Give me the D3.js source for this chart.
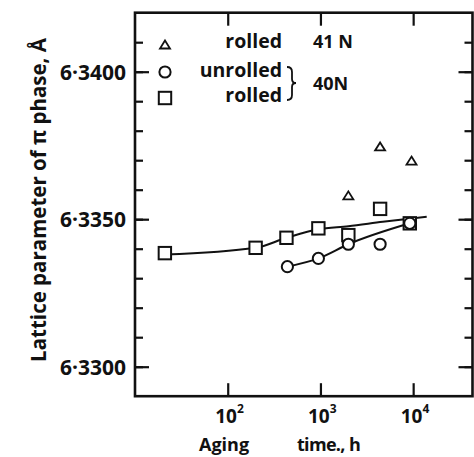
<!DOCTYPE html>
<html>
<head>
<meta charset="utf-8">
<script src="https://cdn.jsdelivr.net/npm/d3@7"></script>
<style>
  html, body { margin: 0; padding: 0; background: #fff; }
  svg { display: block; }
  text { font-family: "Open Sans", "DejaVu Sans", sans-serif; font-weight: 700; fill: #111; }
</style>
</head>
<body>
<svg id="chart" width="474" height="457"></svg>
<script>
// Aging time (h) and lattice parameter (Å) of the π phase
const rolled41Time  = [2000, 4400, 9600];
const rolled41Value = [6.33579, 6.33745, 6.33697];

const unrolled40Time  = [440, 950, 2000, 4400, 9200];
const unrolled40Value = [6.33339, 6.33367, 6.33415, 6.33415, 6.33486];

const rolled40Time  = [21, 200, 430, 950, 2000, 4400, 9200];
const rolled40Value = [6.33385, 6.33403, 6.33437, 6.33469, 6.33446, 6.33535, 6.33486];

// hand-drawn trend curves
const rolled40CurveTime  = [21, 200, 430, 950, 2000, 4700, 14000];
const rolled40CurveValue = [6.33380, 6.33403, 6.33437, 6.33466, 6.33476, 6.33491, 6.33508];
const unrolled40CurveTime  = [440, 950, 2000, 9200];
const unrolled40CurveValue = [6.33339, 6.33367, 6.33415, 6.33486];

// axis ticks
const xMajorTicks = [100, 1000, 10000];
const yMinorTicks = d3.range(6.330, 6.3415, 0.001);
const yMajorTicks = [6.330, 6.335, 6.340];
const yTickLabels = ["6·3300", "6·3350", "6·3400"];

const legendLabels = ["rolled", "unrolled", "rolled"];
const legendGroups = ["41 N", "40N"];
const xTitleWords = ["Aging", "time.,", "h"];
const yTitle = "Lattice parameter of π phase, Å";

const zip = (ts, vs) => ts.map((t, i) => ({ t, v: vs[i] }));

const svg = d3.select("#chart");
const plotLeft = 135, plotRight = 472.5, plotTop = 12.7, plotBottom = 396.2;

const x = d3.scaleLog().domain([10, Math.pow(10, 4.64)]).range([plotLeft, plotRight]);
const y = d3.scaleLinear().domain([6.329, 6.342]).range([plotBottom, plotTop]);

// ticks, all pointing into the frame
svg.append("g").attr("transform", `translate(${plotLeft},0)`)
  .call(d3.axisLeft(y).tickValues(yMinorTicks).tickSize(-8).tickFormat(""));
svg.append("g").attr("transform", `translate(${plotRight},0)`)
  .call(d3.axisRight(y).tickValues(yMinorTicks).tickSize(-8).tickFormat(""));
svg.append("g").attr("transform", `translate(${plotLeft},0)`)
  .call(d3.axisLeft(y).tickValues(yMajorTicks).tickSize(-14).tickPadding(9)
    .tickFormat((d, i) => yTickLabels[i]))
  .call(g => g.selectAll("text").attr("font-size", 21).attr("dy", "0.36em"));
svg.append("g").attr("transform", `translate(${plotRight},0)`)
  .call(d3.axisRight(y).tickValues(yMajorTicks).tickSize(-14).tickFormat(""));

const xb = svg.append("g").attr("transform", `translate(0,${plotBottom})`)
  .call(d3.axisBottom(x).tickValues(xMajorTicks).tickSize(-13).tickFormat(""));
svg.append("g").attr("transform", `translate(0,${plotTop})`)
  .call(d3.axisTop(x).tickValues(xMajorTicks).tickSize(-13).tickFormat(""));

xb.selectAll(".tick").append("text")
  .attr("x", -13).attr("y", 27).attr("text-anchor", "start")
  .each(function (d) {
    const t = d3.select(this);
    t.append("tspan").attr("font-size", 19).text("10");
    t.append("tspan").attr("font-size", 12).attr("dy", -10).text(Math.round(Math.log10(d)));
  });

svg.selectAll(".domain").remove();
svg.selectAll(".tick line").attr("stroke", "#111").attr("stroke-width", 2.2);

// frame
svg.append("rect")
  .attr("x", plotLeft).attr("y", plotTop)
  .attr("width", plotRight - plotLeft).attr("height", plotBottom - plotTop)
  .attr("fill", "none").attr("stroke", "#111").attr("stroke-width", 2.6);

// axis titles, words spread out along the bottom
[199, 297, 349].forEach((px, i) =>
  svg.append("text").attr("x", px).attr("y", 451).attr("font-size", 18)
    .attr("letter-spacing", i === 1 ? -0.7 : 0)
    .text(xTitleWords[i]));

svg.append("text")
  .attr("transform", "translate(46,200) rotate(-90)")
  .attr("text-anchor", "middle").attr("font-size", 20.5)
  .text(yTitle);

// trend curves
const line = d3.line().x(d => x(d.t)).y(d => y(d.v)).curve(d3.curveMonotoneX);
svg.append("path").datum(zip(rolled40CurveTime, rolled40CurveValue))
  .attr("d", line).attr("fill", "none").attr("stroke", "#111").attr("stroke-width", 2);
svg.append("path").datum(zip(unrolled40CurveTime, unrolled40CurveValue))
  .attr("d", line).attr("fill", "none").attr("stroke", "#111").attr("stroke-width", 2);

// marker shapes
const sq = 6.2, cr = 5.6;
const triPath = "M0,-4.5L5,3.5L-5,3.5Z";
function squares(g, data) {
  g.selectAll(null).data(data).join("rect")
    .attr("x", d => x(d.t) - sq).attr("y", d => y(d.v) - sq)
    .attr("width", 2 * sq).attr("height", 2 * sq)
    .attr("fill", "#fff").attr("stroke", "#111").attr("stroke-width", 2);
}
function circles(g, data) {
  g.selectAll(null).data(data).join("circle")
    .attr("cx", d => x(d.t)).attr("cy", d => y(d.v)).attr("r", cr)
    .attr("fill", "#fff").attr("stroke", "#111").attr("stroke-width", 2);
}
function triangles(g, data) {
  g.selectAll(null).data(data).join("path")
    .attr("transform", d => `translate(${x(d.t)},${y(d.v)})`)
    .attr("d", triPath)
    .attr("fill", "#fff").attr("stroke", "#111").attr("stroke-width", 1.8);
}
squares(svg.append("g"), zip(rolled40Time, rolled40Value));
circles(svg.append("g"), zip(unrolled40Time, unrolled40Value));
triangles(svg.append("g"), zip(rolled41Time, rolled41Value));

// legend
const lg = svg.append("g");
lg.append("path").attr("transform", "translate(165,45)").attr("d", triPath)
  .attr("fill", "#fff").attr("stroke", "#111").attr("stroke-width", 1.8);
lg.append("circle").attr("cx", 165).attr("cy", 72).attr("r", cr)
  .attr("fill", "#fff").attr("stroke", "#111").attr("stroke-width", 2);
lg.append("rect").attr("x", 165 - sq).attr("y", 98 - sq).attr("width", 2 * sq).attr("height", 2 * sq)
  .attr("fill", "#fff").attr("stroke", "#111").attr("stroke-width", 2);
[48, 77, 102].forEach((by, i) =>
  lg.append("text").attr("x", 282).attr("y", by).attr("text-anchor", "end")
    .attr("font-size", 19.5).text(legendLabels[i]));
lg.append("text").attr("x", 313).attr("y", 48).attr("font-size", 18).text(legendGroups[0]);
lg.append("text").attr("x", 313).attr("y", 90).attr("font-size", 18).text(legendGroups[1]);
lg.append("path")
  .attr("d", "M287,67Q292,67 292,72L292,79Q292,83 296,83Q292,83 292,87L292,95Q292,100 287,100")
  .attr("fill", "none").attr("stroke", "#111").attr("stroke-width", 1.8);
</script>
</body>
</html>
